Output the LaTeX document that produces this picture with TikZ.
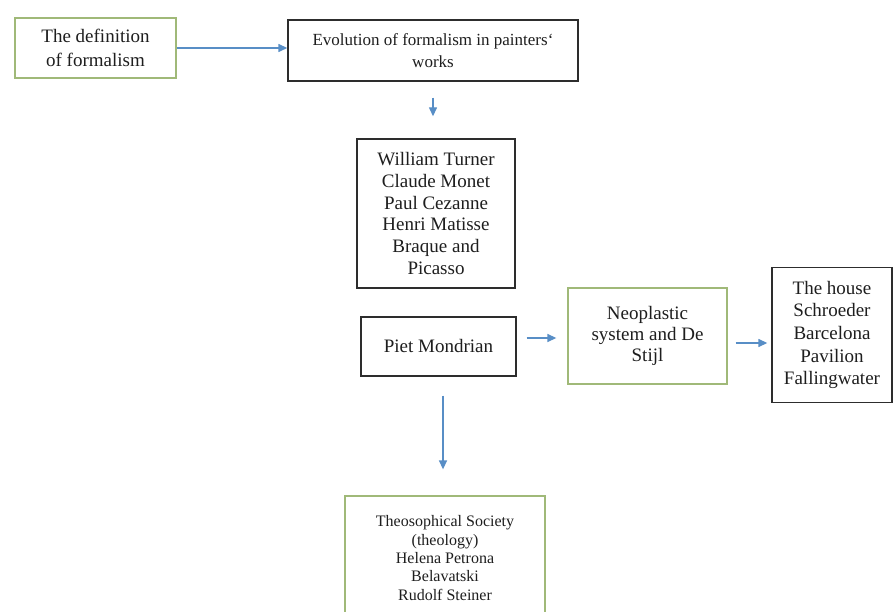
\documentclass[tikz,border=0pt]{standalone}
\usepackage{fontspec}
\setmainfont{Liberation Serif}
\usetikzlibrary{arrows.meta}
\definecolor{boxgreen}{RGB}{160,185,120}
\definecolor{boxblack}{RGB}{45,45,45}
\definecolor{arrowblue}{RGB}{88,142,198}
\definecolor{txt}{RGB}{30,30,30}
\tikzset{
  base/.style={rectangle, inner sep=0pt, align=center, text=txt, fill=white},
  greenbox/.style={base, draw=boxgreen, line width=1.3pt},
  blackbox/.style={base, draw=boxblack, line width=1.4pt},
  arr/.style={draw=arrowblue, line width=1.4pt, -{Triangle[length=9pt,width=8pt]}},
}
\begin{document}
\begin{tikzpicture}[x=1pt,y=-1pt]
\useasboundingbox (0,0) rectangle (894,612);

\node[greenbox, minimum width=161pt, minimum height=60pt, font=\rmfamily\fontsize{19}{24}\selectfont]
  (b1) at (95.5,48) {The definition\\of formalism};
\node[blackbox, minimum width=290pt, minimum height=61pt, font=\rmfamily\fontsize{17}{22}\selectfont]
  (b2) at (433,50.5) {Evolution of formalism in painters\char"0060\\works};
\node[blackbox, minimum width=158pt, minimum height=149pt, font=\rmfamily\fontsize{19}{21.7}\selectfont]
  (b3) at (436,213.5) {William Turner\\Claude Monet\\Paul Cezanne\\Henri Matisse\\Braque and\\Picasso};
\node[blackbox, minimum width=155pt, minimum height=59pt, font=\rmfamily\fontsize{19}{22}\selectfont]
  (piet) at (438.5,346.5) {Piet Mondrian};
\node[greenbox, minimum width=159pt, minimum height=96pt, font=\rmfamily\fontsize{19}{21}\selectfont]
  (neo) at (647.5,336) {Neoplastic\\system and De\\Stijl};
\node[blackbox, minimum width=120pt, minimum height=135pt, font=\rmfamily\fontsize{19}{22.7}\selectfont]
  (rb) at (832,335) {The house\\Schroeder\\Barcelona\\Pavilion\\Fallingwater};
\node[greenbox, minimum width=200pt, minimum height=124pt, font=\rmfamily\fontsize{16}{18.3}\selectfont]
  (theo) at (445,558) {Theosophical Society\\(theology)\\Helena Petrona\\Belavatski\\Rudolf Steiner};

\draw[arr] (b1.east) -- (b1.east -| b2.west);
\draw[arr, shorten <=16pt, shorten >=22pt] (b2.south) -- (b2.south |- b3.north);
\draw[arr, shorten <=10pt, shorten >=11pt] ([yshift=8.5pt]piet.east) -- ([yshift=8.5pt]piet.east -| neo.west);
\draw[arr, shorten <=8pt, shorten >=4pt] ([yshift=-7pt]neo.east) -- ([yshift=-7pt]neo.east -| rb.west);
\draw[arr, shorten <=19pt, shorten >=26pt] ([xshift=4.5pt]piet.south) -- ([xshift=4.5pt]piet.south |- theo.north);
\end{tikzpicture}
\end{document}
